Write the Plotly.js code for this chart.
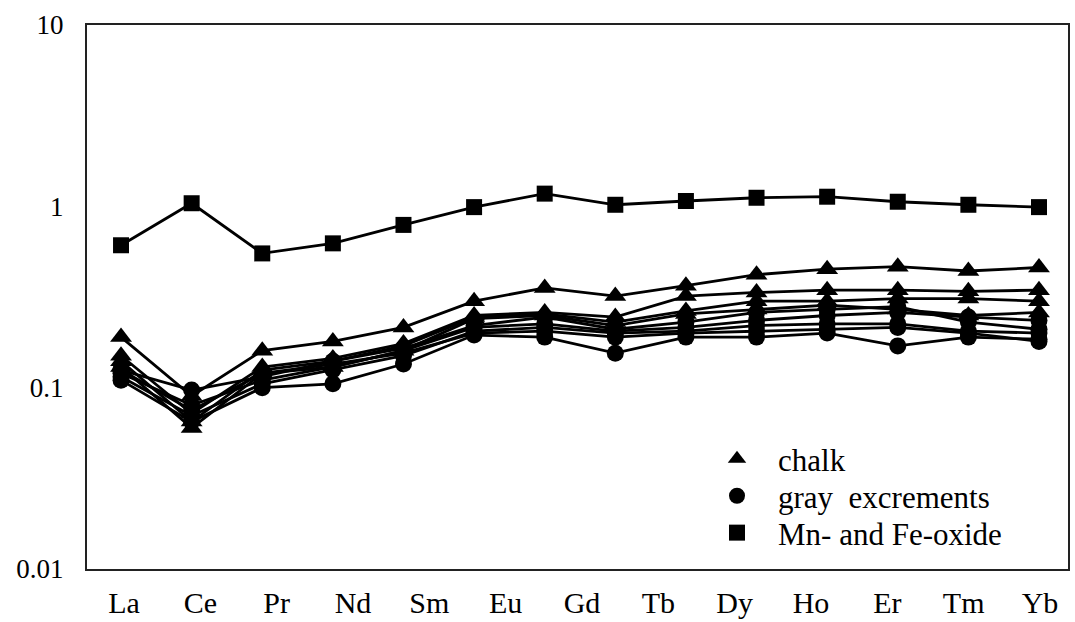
<!DOCTYPE html>
<html>
<head>
<meta charset="utf-8">
<script src="https://cdn.plot.ly/plotly-3.0.1.min.js"></script>
<style>html,body{margin:0;padding:0;background:#fff;}#chart{width:1075px;height:622px;}</style>
</head>
<body>
<div id="chart"></div>
<script>
// data positions (14 analysed elements) and the 13 printed axis labels
const elements = ['La','Ce','Pr','Nd','Sm','Eu','Gd','Tb','Dy','Ho','Er','Tm','Yb','Lu'];
const tickLabels = ['La','Ce','Pr','Nd','Sm','Eu','Gd','Tb','Dy','Ho','Er','Tm','Yb'];

// chalk samples
const chalk1 = [0.19, 0.09, 0.16, 0.18, 0.215, 0.30, 0.355, 0.32, 0.365, 0.42, 0.45, 0.465, 0.44, 0.46];
const chalk2 = [0.15, 0.072, 0.13, 0.145, 0.175, 0.25, 0.26, 0.245, 0.32, 0.335, 0.345, 0.345, 0.34, 0.345];
const chalk3 = [0.14, 0.065, 0.125, 0.14, 0.17, 0.245, 0.255, 0.23, 0.265, 0.30, 0.30, 0.31, 0.31, 0.30];
const chalk4 = [0.13, 0.06, 0.12, 0.13, 0.16, 0.24, 0.25, 0.22, 0.255, 0.27, 0.285, 0.27, 0.25, 0.26];

// gray excrement samples
const gray1 = [0.125, 0.097, 0.115, 0.14, 0.165, 0.22, 0.245, 0.21, 0.23, 0.26, 0.27, 0.28, 0.23, 0.21];
const gray2 = [0.12, 0.08, 0.11, 0.13, 0.16, 0.215, 0.225, 0.205, 0.215, 0.235, 0.25, 0.26, 0.245, 0.235];
const gray3 = [0.115, 0.07, 0.105, 0.125, 0.15, 0.205, 0.215, 0.20, 0.205, 0.22, 0.225, 0.225, 0.205, 0.20];
const gray4 = [0.11, 0.065, 0.10, 0.105, 0.135, 0.195, 0.19, 0.155, 0.19, 0.19, 0.20, 0.17, 0.19, 0.185];
const gray5 = [0.125, 0.075, 0.12, 0.135, 0.155, 0.20, 0.205, 0.19, 0.20, 0.205, 0.21, 0.215, 0.20, 0.18];

// Mn- and Fe-oxide
const oxide = [0.61, 1.04, 0.55, 0.625, 0.79, 0.99, 1.175, 1.02, 1.07, 1.115, 1.13, 1.06, 1.02, 0.99];

const legendNames = ['chalk', 'gray  excrements', 'Mn- and Fe-oxide'];
const legendSymbols = ['triangle-up', 'circle', 'square'];

const FONT = 'Liberation Serif, Times New Roman, serif';
const LINE = {color: '#000', width: 2.8};

function series(vals, symbol, size) {
  return {x: elements, y: vals, type: 'scatter', mode: 'lines+markers',
    line: LINE, marker: {symbol: symbol, size: size, color: '#000'},
    showlegend: false, hoverinfo: 'skip'};
}

const traces = [];
[chalk1, chalk2, chalk3, chalk4].forEach(v => traces.push(series(v, 'triangle-up', 19)));
[gray1, gray2, gray3, gray4, gray5].forEach(v => traces.push(series(v, 'circle', 17)));
traces.push(series(oxide, 'square', 16));

// carrier for the printed label axis (no visible marks)
traces.push({x: tickLabels, y: tickLabels.map(() => null), xaxis: 'x2', yaxis: 'y',
  type: 'scatter', mode: 'markers', showlegend: false, hoverinfo: 'skip'});

// legend entries (marker only), one legend box per row
const legendIds = ['legend', 'legend2', 'legend3'];
legendNames.forEach((nm, i) => {
  traces.push({x: [null], y: [null], type: 'scatter', mode: 'markers', name: nm,
    legend: legendIds[i], marker: {symbol: legendSymbols[i], size: 20, color: '#000'},
    showlegend: true});
});

function legendBox(yc) {
  return {x: 0.6208, y: yc, xanchor: 'left', yanchor: 'middle',
    font: {family: FONT, size: 31, color: '#000'},
    bgcolor: 'rgba(0,0,0,0)', borderwidth: 0, tracegroupgap: 0, itemwidth: 72};
}

const layout = {
  width: 1075, height: 622,
  margin: {l: 87, r: 7, t: 25, b: 53, pad: 0},
  paper_bgcolor: '#fff', plot_bgcolor: '#fff',
  font: {family: FONT, size: 27, color: '#000'},
  xaxis: {
    type: 'category', categoryarray: elements, range: [-0.482, 13.411],
    showticklabels: false, ticks: '', showgrid: false, zeroline: false,
    showline: true, mirror: true, linecolor: '#222', linewidth: 2
  },
  xaxis2: {
    type: 'category', categoryarray: tickLabels,
    overlaying: 'x', anchor: 'y', side: 'bottom',
    range: [-0.485, 12.367],
    ticks: '', showgrid: false, zeroline: false, showline: false,
    tickfont: {family: FONT, size: 30, color: '#000'}, ticklabelstandoff: 13
  },
  yaxis: {
    type: 'log', range: [-2, 1], tickmode: 'array',
    tickvals: [0.01, 0.1, 1, 10], ticktext: ['0.01', '0.1', '1', '10'],
    ticks: '', showgrid: false, zeroline: false,
    showline: true, mirror: true, linecolor: '#222', linewidth: 2,
    tickfont: {family: FONT, size: 27, color: '#000'}, ticklabelstandoff: 16
  },
  showlegend: true,
  legend: legendBox(0.2020),
  legend2: legendBox(0.1340),
  legend3: legendBox(0.0662)
};

Plotly.newPlot('chart', traces, layout, {displayModeBar: false, staticPlot: true});
</script>
</body>
</html>
